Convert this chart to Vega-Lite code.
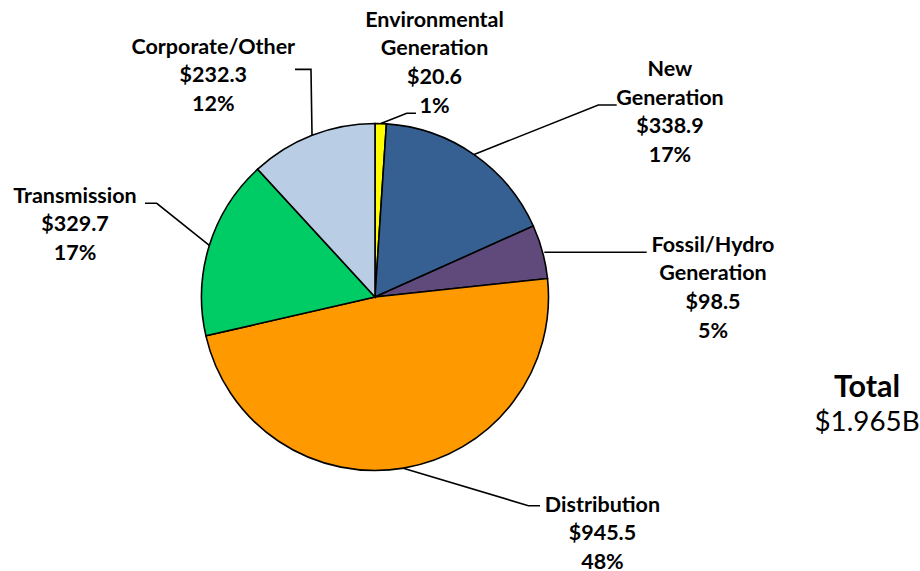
{
  "$schema": "https://vega.github.io/schema/vega-lite/v6.json",
  "width": 920,
  "height": 571,
  "padding": 0,
  "autosize": {"type": "none"},
  "background": "white",
  "config": {"view": {"stroke": null}},
  "datasets": {
    "budget": [
      {"idx": 1, "segment": "Environmental Generation", "display": "Environmental|Generation", "value": 20.6},
      {"idx": 2, "segment": "New Generation", "display": "New|Generation", "value": 338.9},
      {"idx": 3, "segment": "Fossil/Hydro Generation", "display": "Fossil/Hydro|Generation", "value": 98.5},
      {"idx": 4, "segment": "Distribution", "display": "Distribution", "value": 945.5},
      {"idx": 5, "segment": "Transmission", "display": "Transmission", "value": 329.7},
      {"idx": 6, "segment": "Corporate/Other", "display": "Corporate/Other", "value": 232.3}
    ],
    "labelAnchors": [
      {"segment": "Environmental Generation", "lx": 0.343, "ly": 1.592},
      {"segment": "New Generation", "lx": 1.700, "ly": 1.308},
      {"segment": "Fossil/Hydro Generation", "lx": 1.948, "ly": 0.295},
      {"segment": "Distribution", "lx": 1.311, "ly": -1.202},
      {"segment": "Transmission", "lx": -1.729, "ly": 0.578},
      {"segment": "Corporate/Other", "lx": -0.932, "ly": 1.438}
    ],
    "leaders": [
      {"segment": "Environmental Generation", "seq": 1, "x": 0.034, "y": 1.0},
      {"segment": "Environmental Generation", "seq": 2, "x": 0.183, "y": 1.059},
      {"segment": "Environmental Generation", "seq": 3, "x": 0.236, "y": 1.059},
      {"segment": "New Generation", "seq": 1, "x": 0.571, "y": 0.821},
      {"segment": "New Generation", "seq": 2, "x": 1.287, "y": 1.107},
      {"segment": "New Generation", "seq": 3, "x": 1.393, "y": 1.107},
      {"segment": "Fossil/Hydro Generation", "seq": 1, "x": 0.976, "y": 0.258},
      {"segment": "Fossil/Hydro Generation", "seq": 2, "x": 1.566, "y": 0.258},
      {"segment": "Distribution", "seq": 1, "x": 0.163, "y": -0.987},
      {"segment": "Distribution", "seq": 2, "x": 0.884, "y": -1.203},
      {"segment": "Distribution", "seq": 3, "x": 0.951, "y": -1.203},
      {"segment": "Transmission", "seq": 1, "x": -0.955, "y": 0.297},
      {"segment": "Transmission", "seq": 2, "x": -1.258, "y": 0.540},
      {"segment": "Transmission", "seq": 3, "x": -1.326, "y": 0.540},
      {"segment": "Corporate/Other", "seq": 1, "x": -0.363, "y": 0.932},
      {"segment": "Corporate/Other", "seq": 2, "x": -0.369, "y": 1.312},
      {"segment": "Corporate/Other", "seq": 3, "x": -0.461, "y": 1.312}
    ],
    "totals": [
      {"label": "Total", "amount": "$1.965B", "tx": 2.836, "ty1": -0.523, "ty2": -0.728}
    ]
  },
  "layer": [
    {
      "data": {"name": "budget"},
      "mark": {"type": "arc", "outerRadius": 173.5, "stroke": "black", "strokeWidth": 1.6},
      "encoding": {
        "theta": {"field": "value", "type": "quantitative", "stack": true},
        "order": {"field": "idx", "type": "quantitative"},
        "color": {
          "field": "segment",
          "type": "nominal",
          "scale": {
            "domain": ["Environmental Generation", "New Generation", "Fossil/Hydro Generation", "Distribution", "Transmission", "Corporate/Other"],
            "range": ["#FFFF00", "#376092", "#604A7B", "#FF9900", "#00CC66", "#B9CDE5"]
          },
          "legend": null
        },
        "x": {"datum": 0, "type": "quantitative", "scale": {"domain": [-2.1614, 3.1412], "nice": false, "zero": false}, "axis": null},
        "y": {"datum": 0, "type": "quantitative", "scale": {"domain": [-1.5793, 1.7118], "nice": false, "zero": false}, "axis": null}
      }
    },
    {
      "data": {"name": "leaders"},
      "mark": {"type": "line", "color": "black", "strokeWidth": 1.6},
      "encoding": {
        "x": {"field": "x", "type": "quantitative", "scale": {"domain": [-2.1614, 3.1412], "nice": false, "zero": false}, "axis": null},
        "y": {"field": "y", "type": "quantitative", "scale": {"domain": [-1.5793, 1.7118], "nice": false, "zero": false}, "axis": null},
        "detail": {"field": "segment"},
        "order": {"field": "seq", "type": "quantitative"}
      }
    },
    {
      "data": {"name": "labelAnchors"},
      "transform": [
        {"lookup": "segment", "from": {"data": {"name": "budget"}, "key": "segment", "fields": ["display", "value"]}},
        {"joinaggregate": [{"op": "sum", "field": "value", "as": "total"}]},
        {"calculate": "split(datum.display + '|$' + format(datum.value, '.1f') + '|' + format(datum.value / datum.total, '.0%'), '|')", "as": "lines"}
      ],
      "mark": {"type": "text", "font": "Lato", "fontWeight": "bold", "fontSize": 21.5, "lineHeight": 28.7, "align": "center", "baseline": "middle", "color": "black"},
      "encoding": {
        "x": {"field": "lx", "type": "quantitative", "scale": {"domain": [-2.1614, 3.1412], "nice": false, "zero": false}, "axis": null},
        "y": {"field": "ly", "type": "quantitative", "scale": {"domain": [-1.5793, 1.7118], "nice": false, "zero": false}, "axis": null},
        "text": {"field": "lines"}
      }
    },
    {
      "data": {"name": "totals"},
      "mark": {"type": "text", "font": "Lato", "fontWeight": "bold", "fontSize": 30.5, "align": "center", "baseline": "middle", "color": "black"},
      "encoding": {
        "x": {"field": "tx", "type": "quantitative", "scale": {"domain": [-2.1614, 3.1412], "nice": false, "zero": false}, "axis": null},
        "y": {"field": "ty1", "type": "quantitative", "scale": {"domain": [-1.5793, 1.7118], "nice": false, "zero": false}, "axis": null},
        "text": {"field": "label"}
      }
    },
    {
      "data": {"name": "totals"},
      "mark": {"type": "text", "font": "Lato", "fontWeight": "normal", "fontSize": 27.8, "align": "center", "baseline": "middle", "color": "black"},
      "encoding": {
        "x": {"field": "tx", "type": "quantitative", "scale": {"domain": [-2.1614, 3.1412], "nice": false, "zero": false}, "axis": null},
        "y": {"field": "ty2", "type": "quantitative", "scale": {"domain": [-1.5793, 1.7118], "nice": false, "zero": false}, "axis": null},
        "text": {"field": "amount"}
      }
    }
  ]
}
